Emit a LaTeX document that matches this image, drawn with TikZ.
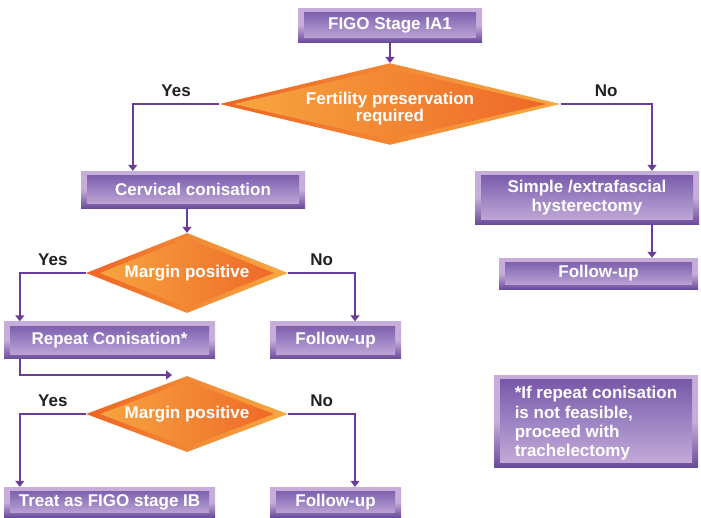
\documentclass[tikz,border=0pt]{standalone}
\usepackage{fontspec}
\setmainfont{Liberation Sans}
\usetikzlibrary{shapes.geometric,arrows.meta}

\definecolor{lilac}{HTML}{C7ADD9}
\definecolor{plum}{HTML}{6A4C9C}
\definecolor{plumtop}{HTML}{7454A6}
\definecolor{plummid}{HTML}{9C83C3}
\definecolor{linepurple}{HTML}{6A3D9A}
\definecolor{flame}{HTML}{EE6526}
\definecolor{amber}{HTML}{F7A941}
\definecolor{labelblack}{HTML}{231F20}

\tikzset{
    stagebox/.style={rectangle, inner sep=0pt, text=white, align=center,
        top color=lilac, bottom color=plum, middle color=lilac,
        path picture={\shade[top color=plumtop, bottom color=lilac, middle color=plummid]
            ([shift={(6pt,-4.5pt)}]path picture bounding box.north west) rectangle
            ([shift={(-6pt,4.5pt)}]path picture bounding box.south east);}},
    choice/.style={diamond, inner sep=0pt, text=white, align=center,
        left color=flame, right color=amber,
        path picture={\shade[left color=amber, right color=flame]
            ([xshift=14pt]path picture bounding box.west) --
            ([yshift=-5pt]path picture bounding box.north) --
            ([xshift=-14pt]path picture bounding box.east) --
            ([yshift=5pt]path picture bounding box.south) -- cycle;}},
    arr/.style={-{Triangle[width=9pt,length=6pt]}, draw=linepurple, line width=1.4pt},
    answer/.style={above=7pt, inner sep=0pt, text=labelblack}
}

\begin{document}
\begin{tikzpicture}[x=1pt, y=-1pt, font=\bfseries\fontsize{17}{19}\selectfont]
    \useasboundingbox (0,0) rectangle (701,517);

    \node[stagebox, minimum width=184pt, minimum height=34pt] (figo) at (390,25) {FIGO Stage IA1};
    \node[choice, aspect=4.17, minimum width=338pt, minimum height=81pt,
        font=\bfseries\fontsize{17}{15.5}\selectfont] (fert) at (390,104)
        {\rule{0pt}{21pt}Fertility preservation\\required};
    \node[stagebox, minimum width=224pt, minimum height=37pt] (cerv) at (193,189.5) {Cervical conisation};
    \node[stagebox, minimum width=224pt, minimum height=53pt] (hyst) at (587,197.5) {Simple /extrafascial\\hysterectomy};
    \node[stagebox, minimum width=199pt, minimum height=31pt] (hfollow) at (598.5,273.5) {Follow-up};
    \node[choice, aspect=2.5, minimum width=202pt, minimum height=80pt] (marginA) at (187,273) {Margin positive};
    \node[stagebox, minimum width=211pt, minimum height=37pt] (repeat) at (109.5,340) {Repeat Conisation*};
    \node[stagebox, minimum width=131pt, minimum height=37pt] (mfollow) at (335.5,340) {Follow-up};
    \node[choice, aspect=2.66, minimum width=202pt, minimum height=76pt] (marginB) at (187,414) {Margin positive};
    \node[stagebox, minimum width=211pt, minimum height=30pt] (treat) at (109.5,502) {Treat as FIGO stage IB};
    \node[stagebox, minimum width=131pt, minimum height=30pt] (bfollow) at (335.5,502) {Follow-up};
    \node[stagebox, align=left, minimum width=204pt, minimum height=92pt,
        font=\bfseries\fontsize{17}{19.2}\selectfont] (note) at (596,421)
        {\rule{0pt}{17pt}*If repeat conisation\\is not feasible,\\proceed with\\trachelectomy};
    \coordinate (marginBin) at (172,375);

    \draw[arr] (figo) -- (fert);
    \draw[arr] (fert.west) -| node[answer, pos=0.25] {Yes} ([xshift=52pt]cerv.north west);
    \draw[arr] (fert.east) -| node[answer, pos=0.25] {No} ([xshift=65pt]hyst.north);
    \draw[arr] (marginA.north |- cerv.south) -- (marginA.north);
    \draw[arr] ([xshift=65pt]hyst.south) -- ([xshift=65pt]hyst.south |- hfollow.north);
    \draw[arr] (marginA.west) -| node[answer, pos=0.25] {Yes} ([xshift=16pt]repeat.north west);
    \draw[arr] (marginA.east) -| node[answer, pos=0.25] {No} ([xshift=19.5pt]mfollow.north);
    \draw[arr] ([xshift=16pt]repeat.south west) |- (marginBin);
    \draw[arr] (marginB.west) -| node[answer, pos=0.25] {Yes} ([xshift=16pt]treat.north west);
    \draw[arr] (marginB.east) -| node[answer, pos=0.25] {No} ([xshift=19.5pt]bfollow.north);

\end{tikzpicture}
\end{document}
